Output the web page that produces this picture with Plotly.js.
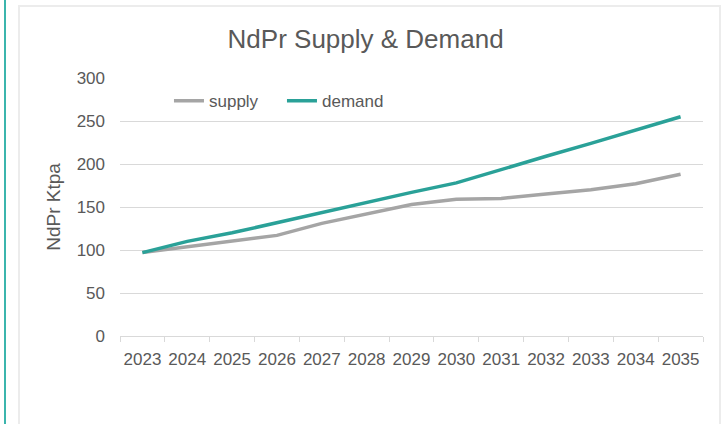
<!DOCTYPE html>
<html>
<head>
<meta charset="utf-8">
<script src="https://cdn.plot.ly/plotly-3.0.1.min.js"></script>
<style>
  html, body { margin: 0; padding: 0; background: #ffffff; }
  #wrap { position: relative; width: 724px; height: 424px; overflow: hidden; background: #fff; }
  #teal { position: absolute; left: 4px; top: 0; width: 2px; height: 424px; background: #3bb5ad; }
  #card { position: absolute; left: 18px; top: 5px; width: 703px; height: 430px; border: 2px solid #ececec; box-sizing: border-box; }
  #chart { position: absolute; left: 0; top: 0; width: 724px; height: 424px; }
</style>
</head>
<body>
<div id="wrap">
  <div id="teal"></div>
  <div id="card"></div>
  <div id="chart"></div>
</div>
<script>
const years = ['2023','2024','2025','2026','2027','2028','2029','2030','2031','2032','2033','2034','2035'];
const supply = [97, 104, 110, 117, 131, 142, 153, 159, 160, 165, 170, 177, 188];
const demand = [97, 110, 120, 132, 143, 155, 167, 178, 194, 209, 224, 240, 255];
const yTicks = [0, 50, 100, 150, 200, 250, 300];

const FONT = '"Liberation Sans", Arial, sans-serif';

const traces = [
  { x: years, y: supply, name: 'supply', type: 'scatter', mode: 'lines',
    line: { color: '#a5a5a5', width: 3.5 } },
  { x: years, y: demand, name: 'demand', type: 'scatter', mode: 'lines',
    line: { color: '#2aa198', width: 3.5 } }
];

const layout = {
  width: 724, height: 424,
  paper_bgcolor: 'rgba(0,0,0,0)', plot_bgcolor: 'rgba(0,0,0,0)',
  margin: { l: 120, r: 21, t: 78, b: 88 },
  font: { family: FONT, color: '#595959' },
  title: { text: 'NdPr Supply & Demand', x: 0.505, xanchor: 'center', y: 0.908, yanchor: 'middle',
    font: { size: 26, color: '#595959', family: FONT } },
  showlegend: true,
  legend: { orientation: 'h', x: 0.084, xanchor: 'left', y: 0.91, yanchor: 'middle',
    font: { size: 17, color: '#595959', family: FONT }, bgcolor: 'rgba(0,0,0,0)',
    itemwidth: 30, entrywidth: 68, entrywidthmode: 'pixels' },
  xaxis: {
    type: 'category', range: [-0.5, 12.5], tickson: 'boundaries', ticks: 'outside', ticklen: 5, tickcolor: '#d9d9d9',
    showline: true, linecolor: '#d9d9d9', linewidth: 1, showgrid: false,
    tickangle: 0, ticklabelstandoff: 8,
    tickfont: { size: 17, color: '#595959', family: FONT }, fixedrange: true
  },
  yaxis: {
    range: [0, 300], tickvals: yTicks, ticktext: yTicks.map(String),
    showgrid: true, gridcolor: '#d9d9d9', gridwidth: 1, zeroline: false, showline: false,
    ticks: '', ticklabelstandoff: 14,
    tickfont: { size: 17, color: '#595959', family: FONT },
    title: { text: 'NdPr Ktpa', font: { size: 19, color: '#595959', family: FONT }, standoff: 10 },
    fixedrange: true
  }
};

Plotly.newPlot('chart', traces, layout, { displayModeBar: false, staticPlot: true });
</script>
</body>
</html>
